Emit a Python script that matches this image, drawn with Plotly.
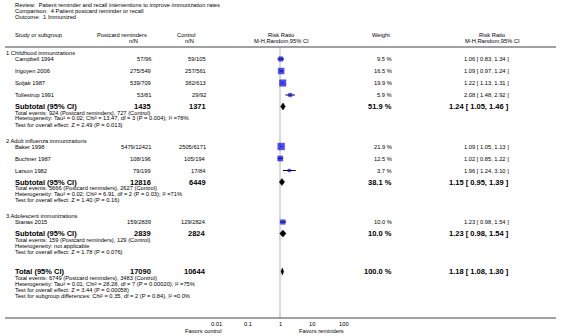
import math
import plotly.graph_objects as go

# ---------------- data ----------------
review = "Patient reminder and recall interventions to improve immunization rates"
comparison = "4 Patient postcard reminder or recall"
outcome = "1 Immunized"

groups = ["1 Childhood immunizations", "2 Adult influenza immunizations", "3 Adolescent immunizations"]
study_group = [0, 0, 0, 0, 1, 1, 1, 2]
studies = ["Campbell 1994", "Irigoyen 2006", "Soljak 1987", "Tollestrup 1991",
           "Baker 1998", "Buchner 1987", "Larson 1982", "Stanas 2015"]
rem_events = [57, 275, 539, 53, 5479, 108, 79, 159]
rem_total = [96, 549, 709, 81, 12421, 196, 199, 2839]
ctl_events = [59, 257, 382, 29, 2505, 105, 17, 129]
ctl_total = [105, 561, 613, 92, 6171, 194, 84, 2824]
weights = [9.5, 16.5, 19.9, 5.9, 21.9, 12.5, 3.7, 10.0]
rr = [1.06, 1.09, 1.22, 2.08, 1.09, 1.02, 1.96, 1.23]
rr_lo = [0.83, 0.97, 1.13, 1.48, 1.05, 0.85, 1.24, 0.98]
rr_hi = [1.34, 1.24, 1.31, 2.92, 1.13, 1.22, 3.10, 1.54]

sub_weight = [51.9, 38.1, 10.0]
sub_rr = [1.24, 1.15, 1.23]
sub_lo = [1.05, 0.95, 0.98]
sub_hi = [1.46, 1.39, 1.54]
sub_het = ["Tau\u00b2 = 0.02; Chi\u00b2 = 13.47, df = 3 (P = 0.004); I\u00b2 =78%",
           "Tau\u00b2 = 0.02; Chi\u00b2 = 6.91, df = 2 (P = 0.03); I\u00b2 =71%",
           "not applicable"]
sub_z = ["Z = 2.49 (P = 0.013)", "Z = 1.40 (P = 0.16)", "Z = 1.78 (P = 0.076)"]

tot_weight = 100.0
tot_rr, tot_lo, tot_hi = 1.18, 1.08, 1.30
tot_het = "Tau\u00b2 = 0.01; Chi\u00b2 = 28.28, df = 7 (P = 0.00020); I\u00b2 =75%"
tot_z = "Z = 3.44 (P = 0.00058)"
tot_sub = "Chi\u00b2 = 0.35, df = 2 (P = 0.84), I\u00b2 =0.0%"

tick_vals = [0.01, 0.1, 1, 10, 100]
tick_text = ["0.01", "0.1", "1", "10", "100"]
fav_left = "Favors control"
fav_right = "Favors reminders"

# ---------------- layout constants ----------------
W, H = 566, 336
FONT = "Liberation Sans, Arial, sans-serif"
FS = 5.75     # regular text
FSB = 7.5     # bold text
X_NAME0 = 5
X_NAME = 14
X_REM = 152
X_CTL = 207
X_WT = 393
X_RR = 510
X_FOREST_L, X_FOREST_R = 216, 344
Y_BOTTOM = 318

anns = []


def py(y):
    return 1 - y / H


def txt(x, y, s, anchor="left", size=FS, bold=False, xref="paper"):
    anns.append(dict(x=x / W if xref == "paper" else x, xref=xref, y=py(y), yref="paper",
                     text=("<b>%s</b>" % s) if bold else s,
                     showarrow=False, xanchor=anchor, yanchor="middle",
                     font=dict(family=FONT, size=size, color="#000"), borderpad=0))


# header
txt(X_NAME, 5, "Review:  " + review)
txt(X_NAME, 11, "Comparison:  " + comparison)
txt(X_NAME, 17, "Outcome:  " + outcome)
txt(X_NAME, 35, "Study or subgroup")
txt(122, 35, "Postcard reminders", "center")
txt(133, 41, "n/N", "center")
txt(186, 35, "Control", "center")
txt(189, 41, "n/N", "center")
txt(281, 35, "Risk Ratio", "center")
txt(281, 41, "M-H,Random,95% CI", "center")
txt(381, 35, "Weight", "center")
txt(492, 35, "Risk Ratio", "center")
txt(492, 41, "M-H,Random,95% CI", "center")

# rows
sq_x, sq_y, sq_s = [], [], []
ci_x, ci_y = [], []
diamonds = []
y = 53
for g, gname in enumerate(groups):
    txt(X_NAME0, y, gname)
    y += 6
    idx = [i for i, sg in enumerate(study_group) if sg == g]
    for i in idx:
        txt(X_NAME, y, studies[i])
        txt(X_REM, y, "%d/%d" % (rem_events[i], rem_total[i]), "right")
        txt(X_CTL, y, "%d/%d" % (ctl_events[i], ctl_total[i]), "right")
        txt(X_WT, y, "%.1f %%" % weights[i], "right")
        txt(X_RR, y, "%.2f [ %.2f, %.2f ]" % (rr[i], rr_lo[i], rr_hi[i]), "right")
        sq_x.append(rr[i]); sq_y.append(y); sq_s.append(1.45 * weights[i] ** 0.5)
        ci_x += [rr_lo[i], rr_hi[i], None]; ci_y += [y, y, None]
        y += 12
    y -= 0.5
    txt(X_NAME, y, "Subtotal (95% CI)", size=FSB, bold=True)
    txt(X_REM, y, "%d" % sum(rem_total[i] for i in idx), "right", FSB, True)
    txt(X_CTL, y, "%d" % sum(ctl_total[i] for i in idx), "right", FSB, True)
    txt(X_WT, y, "%.1f %%" % sub_weight[g], "right", FSB, True)
    txt(X_RR, y, "%.2f [ %.2f, %.2f ]" % (sub_rr[g], sub_lo[g], sub_hi[g]), "right", FSB, True)
    diamonds.append((sub_lo[g], sub_rr[g], sub_hi[g], y))
    y += 6
    txt(X_NAME, y, "Total events: %d (Postcard reminders), %d (Control)" %
        (sum(rem_events[i] for i in idx), sum(ctl_events[i] for i in idx)))
    y += 6
    txt(X_NAME, y, "Heterogeneity: " + sub_het[g])
    y += 6
    txt(X_NAME, y, "Test for overall effect: " + sub_z[g])
    y += 16

y += 4
txt(X_NAME, y, "Total (95% CI)", size=FSB, bold=True)
txt(X_REM, y, "%d" % sum(rem_total), "right", FSB, True)
txt(X_CTL, y, "%d" % sum(ctl_total), "right", FSB, True)
txt(X_WT, y, "%.1f %%" % tot_weight, "right", FSB, True)
txt(X_RR, y, "%.2f [ %.2f, %.2f ]" % (tot_rr, tot_lo, tot_hi), "right", FSB, True)
diamonds.append((tot_lo, tot_rr, tot_hi, y))
y += 6
txt(X_NAME, y, "Total events: %d (Postcard reminders), %d (Control)" % (sum(rem_events), sum(ctl_events)))
y += 6
txt(X_NAME, y, "Heterogeneity: " + tot_het)
y += 6
txt(X_NAME, y, "Test for overall effect: " + tot_z)
y += 6
txt(X_NAME, y, "Test for subgroup differences: " + tot_sub)

# axis tick labels, placed through the log x axis
for v, t in zip(tick_vals, tick_text):
    txt(math.log10(v), 323.5, t, "center", xref="x")

# favors labels
txt(222, 331, fav_left, "right")
txt(298, 331, fav_right, "left")

fig = go.Figure()
# vertical line at RR = 1
fig.add_trace(go.Scatter(x=[1, 1], y=[47, Y_BOTTOM], mode="lines",
                         line=dict(color="#d9d9d9", width=2), hoverinfo="skip"))
# CIs
fig.add_trace(go.Scatter(x=ci_x, y=ci_y, mode="lines", line=dict(color="#000", width=1),
                         hoverinfo="skip"))
# squares
fig.add_trace(go.Scatter(x=sq_x, y=sq_y, mode="markers",
                         marker=dict(symbol="square", size=sq_s, color="#0000ff",
                                     line=dict(color="#00008b", width=0.5))))
# diamonds
for lo, est, hi, yy in diamonds:
    fig.add_trace(go.Scatter(x=[lo, est, hi, est, lo], y=[yy, yy - 3.5, yy, yy + 3.5, yy],
                             mode="lines", fill="toself", fillcolor="#000",
                             line=dict(color="#000", width=0.5), hoverinfo="skip"))

shapes = [
    dict(type="line", xref="paper", yref="paper", x0=5 / W, x1=556 / W, y0=py(47), y1=py(47),
         line=dict(color="#808080", width=1.5)),
    dict(type="line", xref="paper", yref="paper", x0=5 / W, x1=556 / W,
         y0=py(Y_BOTTOM), y1=py(Y_BOTTOM), line=dict(color="#444", width=1)),
]

fig.update_layout(
    width=W, height=H, margin=dict(l=0, r=0, t=0, b=0),
    paper_bgcolor="white", plot_bgcolor="white", showlegend=False,
    annotations=anns, shapes=shapes,
    xaxis=dict(type="log", range=[-2, 2], domain=[X_FOREST_L / W, X_FOREST_R / W],
               showgrid=False, zeroline=False, showline=False, ticks="",
               showticklabels=False, fixedrange=True),
    yaxis=dict(range=[Y_BOTTOM, 0], domain=[(H - Y_BOTTOM) / H, 1], visible=False,
               fixedrange=True),
)

fig.write_html("out.html", config={"displayModeBar": False},
               post_script="document.body.style.margin='0';document.body.style.overflow='hidden';")
